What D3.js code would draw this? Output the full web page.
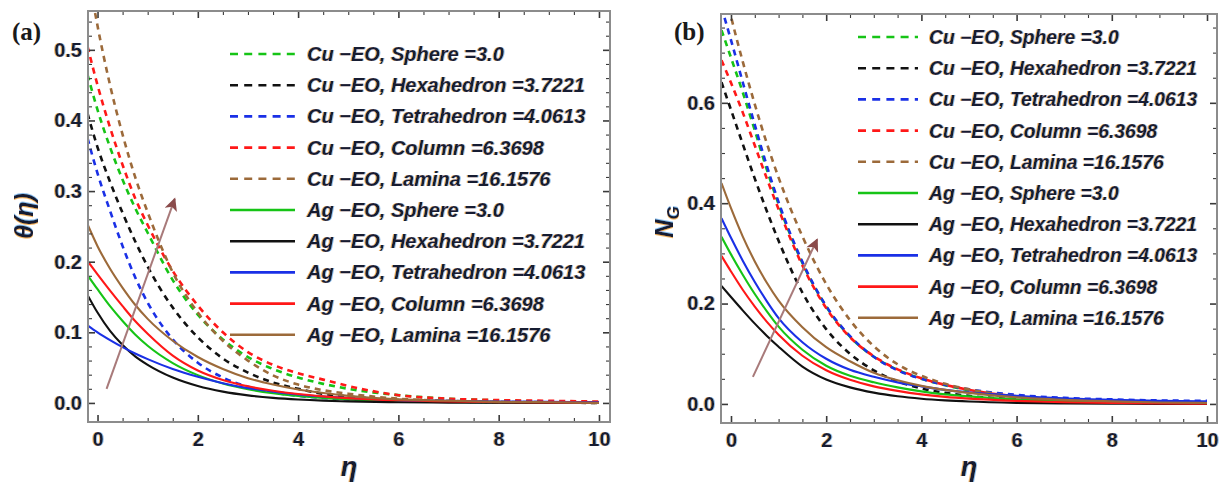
<!DOCTYPE html>
<html>
<head>
<meta charset="utf-8">
<script src="https://cdnjs.cloudflare.com/ajax/libs/d3/7.8.5/d3.min.js"></script>
<style>
  body { margin: 0; background: #fff; }
</style>
</head>
<body>
<svg id="chart" width="1228" height="490"></svg>
<script>
// similarity variable grid shared by all profiles
const eta = [-0.2, 0, 0.25, 0.5, 0.75, 1, 1.5, 2, 2.5, 3, 3.5, 4, 4.5, 5, 6, 7, 8, 9, 10];

// shape factors and their colours
const shapeLabels = ["Sphere =3.0", "Hexahedron =3.7221", "Tetrahedron =4.0613", "Column =6.3698", "Lamina =16.1576"];
const shapeColors = ["#16c416", "#111111", "#1a30e6", "#ff1818", "#9c6a3a"];
const fluids = ["Cu", "Ag"];

// (a) temperature profiles θ(η)
const thetaCuSphere = [0.465, 0.415, 0.362, 0.316, 0.276, 0.241, 0.174, 0.125, 0.090, 0.065, 0.048, 0.036, 0.027, 0.020, 0.011, 0.006, 0.0035, 0.002, 0.001];
const thetaCuHexa   = [0.41, 0.362, 0.313, 0.269, 0.229, 0.193, 0.135, 0.093, 0.063, 0.043, 0.029, 0.020, 0.013, 0.009, 0.004, 0.002, 0.001, 0.0005, 0];
const thetaCuTetra  = [0.375, 0.325, 0.272, 0.222, 0.178, 0.142, 0.090, 0.057, 0.036, 0.023, 0.015, 0.010, 0.007, 0.005, 0.003, 0.002, 0.001, 0.001, 0.001];
const thetaCuColumn = [0.505, 0.45, 0.39, 0.337, 0.29, 0.252, 0.187, 0.138, 0.10, 0.072, 0.054, 0.042, 0.033, 0.024, 0.011, 0.006, 0.004, 0.003, 0.002];
const thetaCuLamina = [0.614, 0.534, 0.45, 0.38, 0.32, 0.27, 0.185, 0.128, 0.088, 0.06, 0.039, 0.026, 0.018, 0.013, 0.006, 0.003, 0.0015, 0.001, 0];
const thetaAgSphere = [0.181, 0.161, 0.137, 0.116, 0.097, 0.081, 0.0565, 0.0394, 0.0275, 0.0194, 0.0138, 0.0098, 0.007, 0.005, 0.0026, 0.0013, 0.0007, 0.0004, 0.0002];
const thetaAgHexa   = [0.153, 0.128, 0.102, 0.082, 0.066, 0.054, 0.036, 0.024, 0.016, 0.0107, 0.0072, 0.0048, 0.0032, 0.0022, 0.001, 0.0004, 0.0002, 0.0001, 0];
const thetaAgTetra  = [0.11, 0.10, 0.089, 0.079, 0.07, 0.062, 0.048, 0.037, 0.028, 0.021, 0.016, 0.012, 0.009, 0.007, 0.004, 0.003, 0.002, 0.0015, 0.001];
const thetaAgColumn = [0.201, 0.182, 0.159, 0.137, 0.116, 0.098, 0.067, 0.046, 0.0325, 0.0235, 0.0172, 0.0126, 0.0093, 0.0068, 0.0037, 0.002, 0.0011, 0.0006, 0.0003];
const thetaAgLamina = [0.253, 0.222, 0.19, 0.163, 0.139, 0.119, 0.088, 0.065, 0.048, 0.035, 0.026, 0.019, 0.014, 0.010, 0.005, 0.003, 0.0015, 0.001, 0];

// (b) entropy generation N_G
const ngCuSphere = [0.745, 0.69, 0.62, 0.545, 0.468, 0.398, 0.281, 0.194, 0.134, 0.094, 0.068, 0.05, 0.037, 0.027, 0.015, 0.008, 0.005, 0.003, 0.002];
const ngCuHexa   = [0.641, 0.586, 0.517, 0.449, 0.385, 0.325, 0.222, 0.149, 0.10, 0.067, 0.045, 0.031, 0.022, 0.016, 0.009, 0.005, 0.003, 0.002, 0.002];
const ngCuTetra  = [0.79, 0.725, 0.64, 0.556, 0.475, 0.402, 0.283, 0.195, 0.135, 0.094, 0.067, 0.05, 0.038, 0.029, 0.018, 0.012, 0.009, 0.007, 0.006];
const ngCuColumn = [0.685, 0.64, 0.58, 0.515, 0.45, 0.388, 0.276, 0.191, 0.133, 0.095, 0.069, 0.051, 0.038, 0.028, 0.015, 0.008, 0.005, 0.003, 0.002];
const ngCuLamina = [0.853, 0.772, 0.681, 0.597, 0.520, 0.451, 0.334, 0.239, 0.167, 0.115, 0.079, 0.056, 0.040, 0.029, 0.015, 0.008, 0.004, 0.002, 0.001];
const ngAgSphere = [0.333, 0.298, 0.257, 0.219, 0.185, 0.154, 0.108, 0.076, 0.056, 0.043, 0.033, 0.025, 0.019, 0.015, 0.009, 0.0055, 0.0035, 0.0022, 0.0015];
const ngAgHexa   = [0.235, 0.213, 0.186, 0.160, 0.136, 0.114, 0.0745, 0.0487, 0.033, 0.0225, 0.0153, 0.0104, 0.0071, 0.0048, 0.0022, 0.001, 0.0005, 0.0002, 0.0001];
const ngAgTetra  = [0.37, 0.331, 0.285, 0.243, 0.205, 0.171, 0.123, 0.090, 0.068, 0.054, 0.043, 0.035, 0.028, 0.023, 0.016, 0.011, 0.008, 0.006, 0.005];
const ngAgColumn = [0.295, 0.264, 0.227, 0.194, 0.164, 0.138, 0.096, 0.067, 0.048, 0.035, 0.026, 0.019, 0.014, 0.0105, 0.006, 0.0033, 0.0018, 0.001, 0.0006];
const ngAgLamina = [0.44, 0.39, 0.333, 0.284, 0.242, 0.206, 0.153, 0.113, 0.085, 0.062, 0.047, 0.036, 0.028, 0.022, 0.013, 0.008, 0.005, 0.003, 0.002];

// tick values
const xMajor = [0, 2, 4, 6, 8, 10];
const thetaMajor = [0.0, 0.1, 0.2, 0.3, 0.4, 0.5];
const ngMajor = [0.0, 0.2, 0.4, 0.6];

// direction-of-increase arrows (data units: [η, value])
const arrowA = [[0.18, 0.02], [1.54, 0.289]];
const arrowB = [[0.46, 0.054], [1.81, 0.328]];

const sans = "'Liberation Sans', Arial, sans-serif";
const serif = "'Liberation Serif', 'Times New Roman', serif";

const svg = d3.select("#chart");
const defs = svg.append("defs");

// colour fringe on the lettering
const fr = defs.append("filter").attr("id", "fringe")
  .attr("x", "-10%").attr("y", "-20%").attr("width", "120%").attr("height", "140%");
fr.append("feOffset").attr("in", "SourceAlpha").attr("dx", -1.2).attr("dy", 0.4).attr("result", "o1");
fr.append("feFlood").attr("flood-color", "#f0a030").attr("flood-opacity", 0.75).attr("result", "f1");
fr.append("feComposite").attr("in", "f1").attr("in2", "o1").attr("operator", "in").attr("result", "orange");
fr.append("feOffset").attr("in", "SourceAlpha").attr("dx", 0.9).attr("dy", -0.5).attr("result", "o2");
fr.append("feFlood").attr("flood-color", "#3a8fe0").attr("flood-opacity", 0.55).attr("result", "f2");
fr.append("feComposite").attr("in", "f2").attr("in2", "o2").attr("operator", "in").attr("result", "blue");
const fm = fr.append("feMerge");
fm.append("feMergeNode").attr("in", "orange");
fm.append("feMergeNode").attr("in", "blue");
fm.append("feMergeNode").attr("in", "SourceGraphic");

defs.append("marker").attr("id", "head")
  .attr("viewBox", "0 0 10 10").attr("refX", 9).attr("refY", 5)
  .attr("markerWidth", 16).attr("markerHeight", 13)
  .attr("markerUnits", "userSpaceOnUse").attr("orient", "auto")
  .append("path").attr("d", "M0,0 L10,5 L0,10 L2.5,5 Z").attr("fill", "#8a4b4b");

function drawPanel(cfg) {
  const x = d3.scaleLinear().domain(cfg.xDom).range([cfg.left, cfg.right]);
  const y = d3.scaleLinear().domain(cfg.yDom).range([cfg.bottom, cfg.top]);
  const g = svg.append("g");

  const clipId = "clip-" + cfg.id;
  defs.append("clipPath").attr("id", clipId).append("rect")
    .attr("x", cfg.left).attr("y", cfg.top)
    .attr("width", cfg.right - cfg.left).attr("height", cfg.bottom - cfg.top);

  const line = d3.line().x((d, i) => x(eta[i])).y(d => y(d)).curve(d3.curveMonotoneX);
  const plot = g.append("g").attr("clip-path", `url(#${clipId})`);

  // dashed Cu–EO first, solid Ag–EO on top
  cfg.series.forEach((s, k) => {
    const dashed = k < 5;
    plot.append("path").datum(s)
      .attr("d", line)
      .attr("fill", "none")
      .attr("stroke", shapeColors[k % 5])
      .attr("stroke-width", dashed ? 2.6 : 2.1)
      .attr("stroke-dasharray", dashed ? "6,5" : null);
  });

  // arrow
  plot.append("line")
    .attr("x1", x(cfg.arrow[0][0])).attr("y1", y(cfg.arrow[0][1]))
    .attr("x2", x(cfg.arrow[1][0])).attr("y2", y(cfg.arrow[1][1]))
    .attr("stroke", "#a87a7a").attr("stroke-width", 2)
    .attr("marker-end", "url(#head)");

  // axes with inward ticks on all four sides
  const minorX = d3.range(0, 10.01, 0.5).filter(v => !xMajor.includes(v));
  const minorY = d3.range(0, cfg.yDom[1], cfg.yMinorStep).map(v => +v.toFixed(3))
    .filter(v => !cfg.yMajor.some(m => Math.abs(m - v) < 1e-6));

  function axis(gen, vals, size, fmt, pad, tf) {
    const a = g.append("g").attr("transform", tf)
      .call(gen.tickValues(vals).tickSize(-size).tickPadding(pad).tickFormat(fmt));
    a.select(".domain").remove();
    a.selectAll(".tick line").attr("stroke", "#3a3a3a").attr("stroke-width", size > 5 ? 1.6 : 1.1);
    a.selectAll("text")
      .attr("font-family", sans)
      .attr("font-size", 20).attr("font-weight", "bold").attr("fill", "#141a30")
      .attr("filter", "url(#fringe)");
    return a;
  }
  const none = () => "";
  axis(d3.axisBottom(x), xMajor, 7, d3.format("d"), 10, `translate(0,${cfg.bottom})`);
  axis(d3.axisBottom(x), minorX, 4, none, 0, `translate(0,${cfg.bottom})`);
  axis(d3.axisTop(x), xMajor, 7, none, 0, `translate(0,${cfg.top})`);
  axis(d3.axisTop(x), minorX, 4, none, 0, `translate(0,${cfg.top})`);
  axis(d3.axisLeft(y), cfg.yMajor, 7, d3.format(".1f"), 6, `translate(${cfg.left},0)`);
  axis(d3.axisLeft(y), minorY, 4, none, 0, `translate(${cfg.left},0)`);
  axis(d3.axisRight(y), cfg.yMajor, 7, none, 0, `translate(${cfg.right},0)`);
  axis(d3.axisRight(y), minorY, 4, none, 0, `translate(${cfg.right},0)`);

  // frame
  g.append("rect")
    .attr("x", cfg.left).attr("y", cfg.top)
    .attr("width", cfg.right - cfg.left).attr("height", cfg.bottom - cfg.top)
    .attr("fill", "none").attr("stroke", "#8c8c8c").attr("stroke-width", 2);

  // legend
  const lg = g.append("g");
  cfg.series.forEach((s, k) => {
    const yy = cfg.legY + k * cfg.legStep;
    const dashed = k < 5;
    lg.append("line")
      .attr("x1", cfg.legX).attr("x2", cfg.legX + cfg.legLen)
      .attr("y1", yy).attr("y2", yy)
      .attr("stroke", shapeColors[k % 5])
      .attr("stroke-width", 2.6)
      .attr("stroke-dasharray", dashed ? "8,6.2" : null);
    lg.append("text")
      .attr("x", cfg.legX + cfg.legLen + cfg.legGap).attr("y", yy + 7)
      .attr("font-family", sans)
      .attr("font-size", cfg.legFont).attr("font-weight", "bold").attr("font-style", "italic")
      .attr("fill", "#141a30").attr("filter", "url(#fringe)")
      .text(`${fluids[dashed ? 0 : 1]} \u2212EO, ${shapeLabels[k % 5]}`);
  });

  // x title
  g.append("text")
    .attr("x", cfg.xTitle[0]).attr("y", cfg.xTitle[1])
    .attr("text-anchor", "middle").attr("font-family", sans).attr("font-size", 27)
    .attr("font-weight", "bold").attr("font-style", "italic").attr("fill", "#141a30")
    .attr("filter", "url(#fringe)")
    .text("\u03b7");

  // panel tag
  g.append("text")
    .attr("x", cfg.tag[0]).attr("y", cfg.tag[1])
    .attr("font-family", serif)
    .attr("font-size", 25).attr("font-weight", "bold").attr("fill", "#1a1a1a")
    .text(cfg.tagText);

  return { x, y, g };
}

drawPanel({
  id: "a", left: 88, right: 610, top: 11, bottom: 422,
  xDom: [-0.19, 10.22], yDom: [-0.027, 0.555],
  yMajor: thetaMajor, yMinorStep: 0.02,
  series: [thetaCuSphere, thetaCuHexa, thetaCuTetra, thetaCuColumn, thetaCuLamina,
           thetaAgSphere, thetaAgHexa, thetaAgTetra, thetaAgColumn, thetaAgLamina],
  arrow: arrowA,
  legX: 230, legLen: 65, legGap: 12, legY: 54, legStep: 31.2, legFont: 20,
  xTitle: [349, 476], tag: [12, 40], tagText: "(a)"
});

drawPanel({
  id: "b", left: 721, right: 1217, top: 14, bottom: 423,
  xDom: [-0.21, 10.21], yDom: [-0.038, 0.777],
  yMajor: ngMajor, yMinorStep: 0.05,
  series: [ngCuSphere, ngCuHexa, ngCuTetra, ngCuColumn, ngCuLamina,
           ngAgSphere, ngAgHexa, ngAgTetra, ngAgColumn, ngAgLamina],
  arrow: arrowB,
  legX: 858, legLen: 60, legGap: 11, legY: 37, legStep: 31.2, legFont: 19.3,
  xTitle: [969, 476], tag: [674, 40], tagText: "(b)"
});

// y titles
svg.append("text")
  .attr("transform", "translate(33,216) rotate(-90)")
  .attr("text-anchor", "middle").attr("font-family", sans).attr("font-size", 25)
  .attr("font-weight", "bold").attr("font-style", "italic").attr("fill", "#141a30")
  .attr("filter", "url(#fringe)")
  .text("\u03b8(\u03b7)");

const ngTitle = svg.append("text")
  .attr("transform", "translate(673,222) rotate(-90)")
  .attr("text-anchor", "middle").attr("font-family", sans).attr("font-size", 25)
  .attr("font-weight", "bold").attr("font-style", "italic").attr("fill", "#141a30")
  .attr("filter", "url(#fringe)");
ngTitle.append("tspan").text("N");
ngTitle.append("tspan").attr("font-size", 17).attr("dy", 6).text("G");
</script>
</body>
</html>
